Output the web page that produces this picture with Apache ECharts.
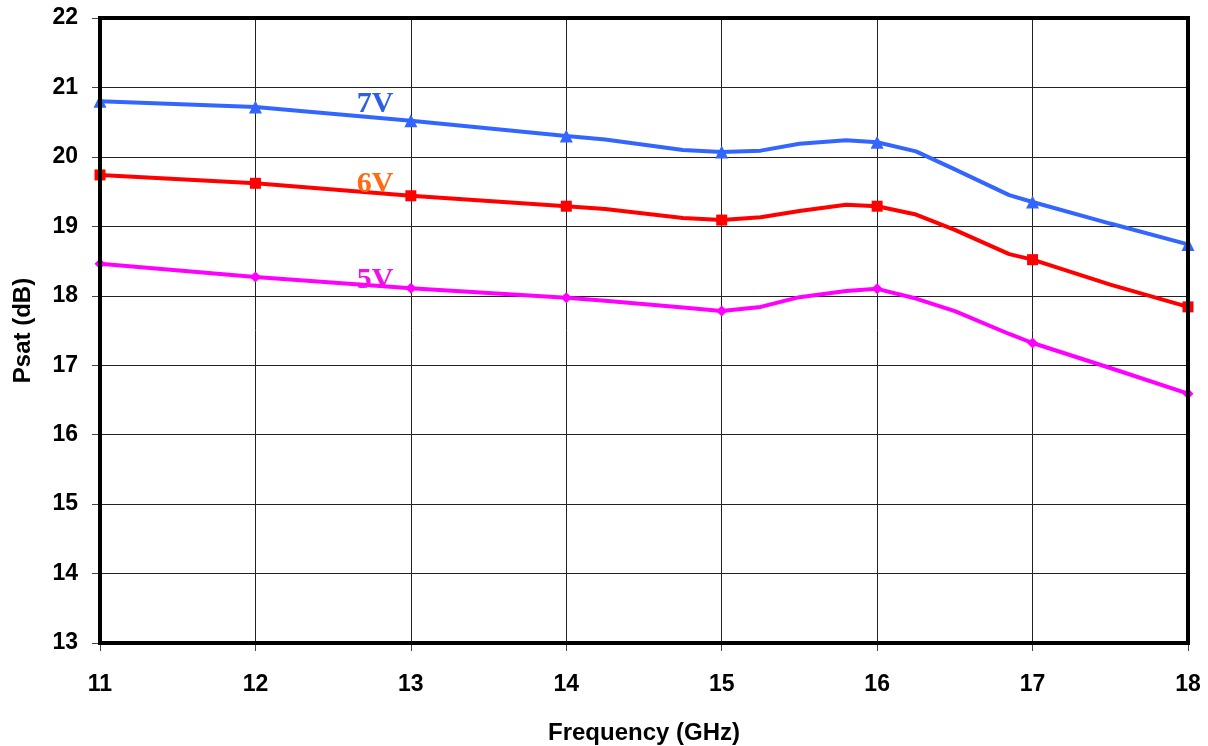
<!DOCTYPE html>
<html>
<head>
<meta charset="utf-8">
<script src="https://cdn.jsdelivr.net/npm/echarts@6/dist/echarts.min.js"></script>
<style>html,body{margin:0;padding:0;background:#fff}#c{width:1208px;height:746px}</style>
</head>
<body>
<div id="c"></div>
<script>
const freq = [11, 12, 13, 14, 14.25, 14.75, 15, 15.25, 15.5, 15.8, 16, 16.25, 16.5, 16.85, 17, 17.5, 18];
const v7 = [20.80, 20.72, 20.52, 20.30, 20.25, 20.10, 20.07, 20.09, 20.19, 20.24, 20.21, 20.08, 19.82, 19.45, 19.35, 19.04, 18.74];
const v6 = [19.74, 19.62, 19.44, 19.29, 19.25, 19.12, 19.09, 19.13, 19.22, 19.31, 19.29, 19.17, 18.95, 18.60, 18.52, 18.16, 17.84];
const v5 = [18.46, 18.27, 18.11, 17.97, 17.93, 17.83, 17.78, 17.84, 17.98, 18.07, 18.10, 17.96, 17.78, 17.45, 17.32, 16.96, 16.59];
const labels = [
  {name: '7V', at: [12.77, 20.76], color: '#2F5FE8'},
  {name: '6V', at: [12.77, 19.60], color: '#FF6A13'},
  {name: '5V', at: [12.77, 18.22], color: '#F010E8'}
];
const xTicks = [11, 12, 13, 14, 15, 16, 17, 18];
const yTicks = [13, 14, 15, 16, 17, 18, 19, 20, 21, 22];

function pts(vals) { return freq.map((f, i) => [f, vals[i]]); }
function mk(name, vals, color, symbol, size, lbl) {
  return {
    name: name, type: 'line', data: pts(vals), smooth: false,
    symbol: symbol,
    symbolSize: function (v) { return Number.isInteger(v[0]) ? size : 0; },
    lineStyle: {color: color, width: 4},
    itemStyle: {color: color},
    clip: false,
    z: 3,
    markPoint: {
      symbol: 'circle', symbolSize: 0,
      data: [{coord: lbl.at, value: lbl.name}],
      label: {show: true, position: 'inside', formatter: lbl.name,
        fontFamily: 'Liberation Serif, Times New Roman, serif', fontWeight: 'bold',
        fontSize: 30, color: lbl.color}
    }
  };
}
const tickFont = {fontFamily: 'Liberation Sans, Arial', fontWeight: 'bold', fontSize: 23, color: '#000'};
const chart = echarts.init(document.getElementById('c'), null, {renderer: 'canvas'});
chart.setOption({
  animation: false,
  backgroundColor: '#fff',
  grid: {left: 100, right: 20, top: 18, bottom: 103, containLabel: false, outerBoundsMode: 'none',
    show: true, borderColor: '#000', borderWidth: 4, backgroundColor: 'transparent', z: 5},
  xAxis: {
    type: 'value', min: 11, max: 18, interval: 1,
    name: 'Frequency (GHz)', nameLocation: 'middle', nameGap: 78,
    nameTextStyle: {fontFamily: 'Liberation Sans, Arial', fontWeight: 'bold', fontSize: 24, color: '#000'},
    axisLine: {show: false},
    axisTick: {show: true, length: 8, lineStyle: {color: '#444', width: 1}},
    axisLabel: Object.assign({margin: 30,
      formatter: function (v) { return xTicks.indexOf(v) >= 0 ? String(v) : ''; }}, tickFont),
    splitLine: {show: true, lineStyle: {color: '#222', width: 1}}
  },
  yAxis: {
    type: 'value', min: 13, max: 22, interval: 1,
    name: 'Psat (dB)', nameLocation: 'middle', nameGap: 65,
    nameTextStyle: {fontFamily: 'Liberation Sans, Arial', fontWeight: 'bold', fontSize: 24, color: '#000'},
    axisLine: {show: false},
    axisTick: {show: true, length: 8, lineStyle: {color: '#444', width: 1}},
    axisLabel: Object.assign({margin: 22,
      formatter: function (v) { return yTicks.indexOf(v) >= 0 ? String(v) : ''; }}, tickFont),
    splitLine: {show: true, lineStyle: {color: '#222', width: 1}}
  },
  series: [
    mk('7V', v7, '#3366FF', 'triangle', 13, labels[0]),
    mk('6V', v6, '#FF0000', 'rect', 11, labels[1]),
    mk('5V', v5, '#FF00FF', 'diamond', 11, labels[2])
  ]
});
</script>
</body>
</html>
